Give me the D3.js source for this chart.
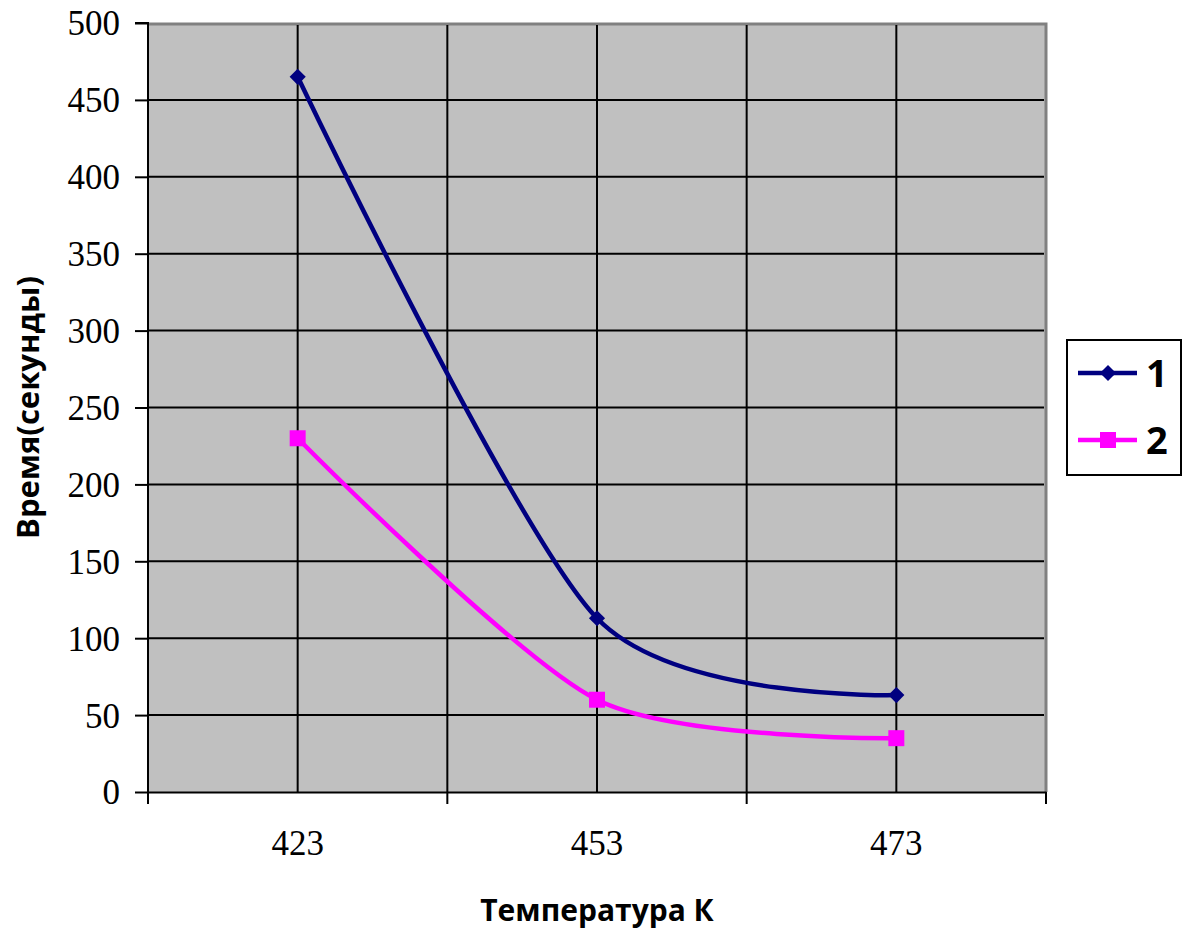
<!DOCTYPE html>
<html>
<head>
<meta charset="utf-8">
<script src="https://cdn.jsdelivr.net/npm/d3@7"></script>
<style>
  html, body { margin: 0; padding: 0; background: #fff; }
  svg { display: block; }
</style>
</head>
<body>
<svg id="chart" width="1184" height="931"></svg>
<script>
// Temperatures (K) on the category axis
const categories = ["423", "453", "473"];
// Time in seconds for each series
const series1 = [465, 113, 63];
const series2 = [230, 60, 35];
const seriesNames = ["1", "2"];
// Value axis ticks
const yTicks = [0, 50, 100, 150, 200, 250, 300, 350, 400, 450, 500];

const svg = d3.select("#chart");
const plot = { left: 148, right: 1046, top: 23, bottom: 792 };

const x = d3.scaleBand().domain(categories).range([plot.left, plot.right]).padding(0);
const y = d3.scaleLinear().domain([0, 500]).range([plot.bottom, plot.top]);
const cx = d => x(d) + x.bandwidth() / 2;

// Plot background
svg.append("rect")
  .attr("x", plot.left).attr("y", plot.top)
  .attr("width", plot.right - plot.left).attr("height", plot.bottom - plot.top)
  .attr("fill", "#c0c0c0");

// Gray frame on top and right
svg.append("path")
  .attr("d", `M${plot.left},${plot.top + 1}H${plot.right}V${plot.bottom}`)
  .attr("fill", "none").attr("stroke", "#808080").attr("stroke-width", 3);

// Horizontal gridlines
svg.append("g").selectAll("line").data(yTicks.filter(v => v > 0 && v < 500)).join("line")
  .attr("x1", plot.left).attr("x2", plot.right - 2)
  .attr("y1", d => y(d)).attr("y2", d => y(d))
  .attr("stroke", "#000").attr("stroke-width", 2);

// Vertical gridlines at category centres and between categories
const vLines = categories.map(cx).concat(categories.slice(1).map(c => x(c)));
svg.append("g").selectAll("line").data(vLines).join("line")
  .attr("x1", d => d).attr("x2", d => d)
  .attr("y1", plot.top + 2).attr("y2", plot.bottom)
  .attr("stroke", "#000").attr("stroke-width", 2);

// Value axis
const yAxis = d3.axisLeft(y).tickValues(yTicks).tickSize(13).tickPadding(15).tickFormat(d3.format("d"));
const gy = svg.append("g").attr("transform", `translate(${plot.left},0)`).call(yAxis);
gy.select(".domain").attr("stroke", "#000").attr("stroke-width", 2).attr("d", `M-13,${plot.top}H0V${plot.bottom}`);
gy.selectAll(".tick line").attr("stroke", "#000").attr("stroke-width", 2);
gy.selectAll(".tick text")
  .attr("font-family", "'Liberation Serif', 'Times New Roman', serif")
  .attr("font-size", 35).attr("fill", "#000").attr("dy", "0.34em");

// Category axis
const xAxis = d3.axisBottom(x).tickSize(0).tickPadding(38);
const gx = svg.append("g").attr("transform", `translate(0,${plot.bottom})`).call(xAxis);
gx.select(".domain").attr("stroke", "#000").attr("stroke-width", 2);
gx.selectAll(".tick text")
  .attr("font-family", "'Liberation Serif', 'Times New Roman', serif")
  .attr("font-size", 35).attr("fill", "#000");
// Tick marks between categories
const bounds = categories.map(c => x(c)).concat([plot.right]);
gx.append("g").selectAll("line").data(bounds).join("line")
  .attr("x1", d => d).attr("x2", d => d).attr("y1", 0).attr("y2", 12)
  .attr("stroke", "#000").attr("stroke-width", 2);

// Axis titles
svg.append("text")
  .attr("x", (plot.left + plot.right) / 2).attr("y", 921)
  .attr("text-anchor", "middle")
  .attr("font-family", "'Open Sans', 'Noto Sans', sans-serif")
  .attr("font-weight", "bold").attr("font-size", 30)
  .text("Температура К");

svg.append("text")
  .attr("transform", `translate(39,${(plot.top + plot.bottom) / 2}) rotate(-90)`)
  .attr("text-anchor", "middle")
  .attr("font-family", "'Open Sans', 'Noto Sans', sans-serif")
  .attr("font-weight", "bold").attr("font-size", 31)
  .text("Время(секунды)");

// Series lines (smoothed)
const line = d3.line()
  .x((d, i) => cx(categories[i]))
  .y(d => y(d))
  .curve(d3.curveCardinal.tension(0.2));

const colors = ["#000080", "#ff00ff"];
const allSeries = [series1, series2];

allSeries.forEach((s, k) => {
  svg.append("path").datum(s)
    .attr("d", line)
    .attr("fill", "none").attr("stroke", colors[k]).attr("stroke-width", 4.5)
    .attr("stroke-linejoin", "round");
});

// Markers: diamonds for series 1, squares for series 2
const markerPath = k => d3.symbol().type(d3.symbolSquare).size(k === 0 ? 130 : 256)();
const markerTransform = (k, px, py) => k === 0 ? `translate(${px},${py}) rotate(45)` : `translate(${px},${py})`;

allSeries.forEach((s, k) => {
  svg.append("g").selectAll("path").data(s).join("path")
    .attr("d", markerPath(k))
    .attr("transform", (d, i) => markerTransform(k, cx(categories[i]), y(d)))
    .attr("fill", colors[k]);
});

// Legend
const legend = svg.append("g");
legend.append("rect")
  .attr("x", 1067).attr("y", 340).attr("width", 114).attr("height", 135)
  .attr("fill", "#fff").attr("stroke", "#000").attr("stroke-width", 2);
seriesNames.forEach((name, k) => {
  const ly = 373 + k * 67;
  legend.append("line")
    .attr("x1", 1078).attr("x2", 1137).attr("y1", ly).attr("y2", ly)
    .attr("stroke", colors[k]).attr("stroke-width", 4.5);
  legend.append("path")
    .attr("d", markerPath(k))
    .attr("transform", markerTransform(k, 1108, ly))
    .attr("fill", colors[k]);
  legend.append("text")
    .attr("x", 1146).attr("y", ly + 14)
    .attr("font-family", "'Open Sans', 'Noto Sans', sans-serif")
    .attr("font-weight", "bold").attr("font-size", 38)
    .text(name);
});
</script>
</body>
</html>
